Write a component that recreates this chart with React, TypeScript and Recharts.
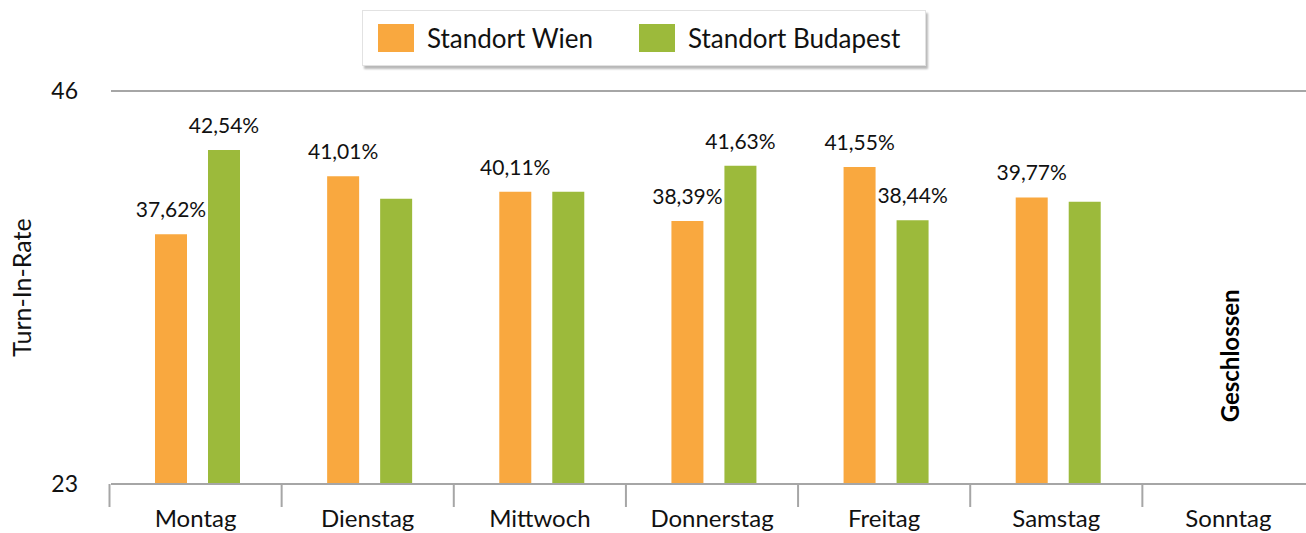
import React from 'react';
import {
  BarChart,
  Bar,
  XAxis,
  YAxis,
  CartesianGrid,
  Legend,
  LabelList,
  ReferenceDot,
} from 'recharts';

const days = ['Montag', 'Dienstag', 'Mittwoch', 'Donnerstag', 'Freitag', 'Samstag', 'Sonntag'];
const wien = [37.62, 41.01, 40.11, 38.39, 41.55, 39.77, null];
const budapest = [42.54, 39.69, 40.11, 41.63, 38.44, 39.52, null];
const wienShowLabel = [true, true, true, true, true, true, false];
const budapestShowLabel = [true, false, false, true, true, false, false];
const yTicks = [23, 46];
const closedDay = 'Sonntag';
const closedText = 'Geschlossen';
const closedTextY = 30.5;

const FONT = 'Lato, "Open Sans", sans-serif';
const ORANGE = '#F9A83F';
const GREEN = '#9CBA3B';
const AXIS_GRAY = '#a6a6a6';

const CHART_W = 1320;
const CHART_H = 533;
const MARGIN = { top: 91, right: 4, left: 3, bottom: 0 };
const Y_AXIS_W = 108;
const X_AXIS_H = 49;
const BAND = (CHART_W - MARGIN.left - MARGIN.right - Y_AXIS_W) / days.length;

const data = days.map((d, i) => ({
  day: d,
  wien: wien[i],
  budapest: budapest[i],
  wienShow: wienShowLabel[i],
  budapestShow: budapestShowLabel[i],
}));

const fmt = (v: number) => v.toFixed(2).replace('.', ',') + '%';

const XTick = (props: any) => {
  const { x, y, payload } = props;
  const bx = x - BAND / 2 - 1.5;
  return (
    <g>
      <line x1={bx} y1={y} x2={bx} y2={y + 23} stroke={AXIS_GRAY} strokeWidth={2} />
      <text x={x - 1.5} y={y + 43} textAnchor="middle" fontFamily={FONT} fontSize={24} fill="#111">
        {payload.value}
      </text>
    </g>
  );
};

const makeValueLabel = (key: 'wienShow' | 'budapestShow') => (props: any) => {
  const { x, y, width, value, index } = props;
  if (value == null || !data[index][key]) return null;
  return (
    <text x={x + width / 2} y={y - 17} textAnchor="middle" fontFamily={FONT} fontSize={21} fill="#111">
      {fmt(value)}
    </text>
  );
};

const LegendContent = () => (
  <div
    style={{
      boxSizing: 'border-box',
      width: 564,
      height: 56,
      background: '#fff',
      border: '1px solid #e2e2e2',
      boxShadow: '2px 3px 2px rgba(0,0,0,0.28)',
      display: 'flex',
      alignItems: 'center',
      fontFamily: FONT,
      fontSize: 26,
      color: '#111',
      whiteSpace: 'nowrap',
    }}
  >
    <span style={{ display: 'inline-block', width: 36, height: 28, background: ORANGE, marginLeft: 15 }} />
    <span style={{ marginLeft: 13 }}>Standort Wien</span>
    <span style={{ display: 'inline-block', width: 36, height: 28, background: GREEN, marginLeft: 46 }} />
    <span style={{ marginLeft: 13 }}>Standort Budapest</span>
  </div>
);

const ClosedLabel = (props: any) => {
  const { viewBox } = props;
  const cx = viewBox.x + (viewBox.width || 0) / 2;
  const cy = viewBox.y + (viewBox.height || 0) / 2;
  return (
    <text
      x={cx}
      y={cy}
      transform={`rotate(-90 ${cx} ${cy})`}
      textAnchor="middle"
      dominantBaseline="central"
      fontFamily={FONT}
      fontWeight="bold"
      fontSize={24}
      fill="#000"
    >
      {closedText}
    </text>
  );
};

export default function App() {
  return (
    <div
      style={{
        position: 'absolute',
        left: 0,
        top: 0,
        width: 1306,
        height: 533,
        overflow: 'hidden',
        background: '#fff',
      }}
    >
      <BarChart width={CHART_W} height={CHART_H} data={data} margin={MARGIN} barSize={32} barGap={21}>
        <CartesianGrid vertical={false} stroke={AXIS_GRAY} strokeWidth={2} />
        <XAxis
          dataKey="day"
          height={X_AXIS_H}
          axisLine={{ stroke: AXIS_GRAY, strokeWidth: 2 }}
          tickLine={false}
          tickSize={0}
          tickMargin={0}
          tick={<XTick />}
          interval={0}
        />
        <YAxis
          width={Y_AXIS_W}
          domain={[23, 46]}
          ticks={yTicks}
          axisLine={false}
          tickLine={false}
          tickSize={0}
          tickMargin={33}
          tick={{ fontFamily: FONT, fontSize: 23, fill: '#111' }}
          label={{
            value: 'Turn-In-Rate',
            angle: -90,
            position: 'insideLeft',
            offset: 19,
            style: { textAnchor: 'middle', fontFamily: FONT, fontSize: 25, fill: '#111' },
          }}
        />
        <Legend
          layout="horizontal"
          verticalAlign="middle"
          align="center"
          content={<LegendContent />}
          wrapperStyle={{ top: 10, left: 362, width: 564, height: 56 }}
        />
        <Bar dataKey="wien" name="Standort Wien" fill={ORANGE} isAnimationActive={false}>
          <LabelList dataKey="wien" content={makeValueLabel('wienShow')} />
        </Bar>
        <Bar dataKey="budapest" name="Standort Budapest" fill={GREEN} isAnimationActive={false}>
          <LabelList dataKey="budapest" content={makeValueLabel('budapestShow')} />
        </Bar>
        <ReferenceDot
          x={closedDay}
          y={closedTextY}
          r={0}
          fill="none"
          stroke="none"
          label={<ClosedLabel />}
        />
      </BarChart>
    </div>
  );
}
